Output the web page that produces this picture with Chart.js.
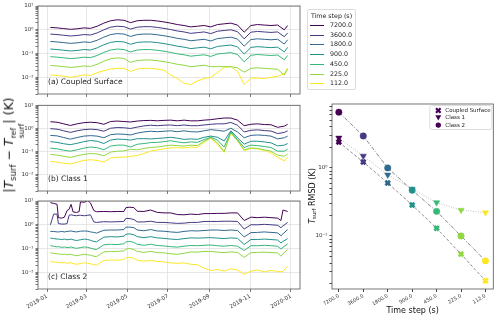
<!DOCTYPE html>
<html>
<head>
<meta charset="utf-8">
<script src="https://cdn.jsdelivr.net/npm/chart.js@4.4.1/dist/chart.umd.min.js"></script>
<style>
  body { margin: 0; background: #fff; font-family: "DejaVu Sans", sans-serif; }
  #wrap { position: relative; width: 500px; height: 319px; overflow: hidden; }
  .box { position: absolute; }
  .vlabel { position: absolute; transform: translate(-50%, -50%) rotate(-90deg); white-space: nowrap; color: #111; }
  .vlabel sub { font-size: 68%; vertical-align: -0.3em; line-height: 0; }
  .ss { display: inline-flex; flex-direction: column; font-size: 62%; line-height: 0.95; vertical-align: -0.45em; }
  #stepLegend { position: absolute; left: 307px; top: 9px; width: 47px; height: 79px; border: 1px solid #dcdcdc; border-radius: 2px; font-size: 6.3px; color: #222; }
  #stepLegend .ltitle { position: absolute; left: 0; width: 100%; top: 2px; text-align: center; }
  .lrow { position: absolute; left: 2px; height: 8px; line-height: 8px; white-space: nowrap; }
  .lline { position: absolute; left: 0; top: 4px; width: 14px; height: 1px; }
  .ltext { position: absolute; left: 20px; top: 0; }
</style>
</head>
<body>
<div id="wrap">
  <div class="box" style="left:0;top:0;width:310px;height:100px"><canvas id="panelA"></canvas></div>
  <div class="box" style="left:0;top:100px;width:310px;height:100px"><canvas id="panelB"></canvas></div>
  <div class="box" style="left:0;top:195px;width:310px;height:124px"><canvas id="panelC"></canvas></div>
  <div class="box" style="left:300px;top:95px;width:200px;height:224px"><canvas id="rmsd"></canvas></div>
  <div id="stepLegend"><div class="ltitle">Time step (s)</div></div>
  <div class="vlabel" style="left:13px;top:145px;font-size:12.5px">|<i>T</i><sub>surf</sub> − <i>T</i><span class="ss"><span>ref</span><span>surf</span></span>| (K)</div>
  <div class="vlabel" style="left:312px;top:196px;font-size:8px"><i>T</i><sub>surf</sub> RMSD (K)</div>
</div>
<script>
Chart.defaults.font.family = "DejaVu Sans";

// time steps and their viridis colours
const stepLabels = ["7200.0", "3600.0", "1800.0", "900.0", "450.0", "225.0", "112.0"];
const viridis = ["#440154", "#443983", "#31688e", "#21918c", "#35b779", "#90d743", "#fde725"];

// x axis: days since 2019-01-01
const monthDays = [0, 59, 120, 181, 243, 304, 365];
const monthLabels = ["2019-01", "2019-03", "2019-05", "2019-07", "2019-09", "2019-11", "2020-01"];

// log10 tick labels
const leftTicks = [0.01, 0.1, 1, 10];
const leftTickLabels = ["10⁻²", "10⁻¹", "10⁰", "10¹"];
const rmsdTicks = [0.1, 1];
const rmsdTickLabels = ["10⁻¹", "10⁰"];

// sample days for panels (a) and (b)
const daysAB = [5, 15, 25, 35, 45, 55, 65, 75, 85, 95, 105, 115, 125, 135, 145, 155, 165, 175, 185,
  195, 205, 215, 225, 235, 245, 255, 265, 275, 285, 295, 305, 315, 325, 335, 345, 355, 360];
// sample days for panel (c), denser where class 2 jumps
const daysC = [5, 10, 15, 17, 22, 26, 30, 33, 36, 39, 44, 48, 50, 56, 61, 65, 70, 74, 85, 95,
  105, 115, 118, 124, 130, 135, 145, 155, 165, 175, 185, 195, 205, 215, 225, 235, 245, 255, 265, 275,
  285, 295, 305, 315, 325, 335, 345, 350, 353, 360];

// values below are log10 of |T_surf - T_surf_ref| in K
// (a) coupled surface
const coupled7200 = [0.10, 0.08, 0.05, 0.02, 0.04, 0.08, 0.06, 0.15, 0.28, 0.38, 0.42, 0.40, 0.30, 0.38, 0.40, 0.40, 0.37, 0.33, 0.28, 0.22, 0.18, 0.12, 0.15, 0.18, 0.12, 0.22, 0.25, 0.28, 0.20, -0.10, 0.18, 0.22, 0.20, 0.18, 0.20, 0.00, 0.18];
const coupled3600 = [-0.18, -0.2, -0.23, -0.26, -0.24, -0.2, -0.22, -0.13, 0.0, 0.11, 0.15, 0.13, 0.03, 0.11, 0.13, 0.13, 0.1, 0.06, 0.01, -0.05, -0.09, -0.15, -0.12, -0.09, -0.16, -0.06, -0.03, 0.0, -0.08, -0.38, -0.1, -0.07, -0.09, -0.11, -0.09, -0.29, -0.13];
const coupled1800 = [-0.49, -0.51, -0.54, -0.57, -0.55, -0.51, -0.53, -0.44, -0.31, -0.2, -0.16, -0.18, -0.28, -0.2, -0.18, -0.18, -0.21, -0.25, -0.3, -0.36, -0.4, -0.46, -0.43, -0.4, -0.47, -0.37, -0.34, -0.31, -0.39, -0.69, -0.41, -0.38, -0.4, -0.42, -0.4, -0.6, -0.42];
const coupled900 = [-0.81, -0.83, -0.86, -0.89, -0.87, -0.83, -0.85, -0.76, -0.63, -0.53, -0.49, -0.51, -0.61, -0.53, -0.51, -0.51, -0.54, -0.58, -0.63, -0.69, -0.73, -0.79, -0.76, -0.73, -0.8, -0.7, -0.67, -0.64, -0.72, -1.02, -0.74, -0.71, -0.73, -0.75, -0.73, -0.93, -0.74];
const coupled450 = [-1.13, -1.15, -1.18, -1.21, -1.19, -1.15, -1.17, -1.08, -0.95, -0.85, -0.81, -0.83, -0.93, -0.85, -0.83, -0.83, -0.86, -0.9, -0.95, -1.01, -1.05, -1.11, -1.08, -1.05, -1.12, -1.02, -0.99, -0.96, -1.04, -1.35, -1.07, -1.04, -1.06, -1.08, -1.06, -1.26, -1.08];
const coupled225 = [-1.5, -1.52, -1.55, -1.58, -1.56, -1.52, -1.54, -1.45, -1.32, -1.22, -1.18, -1.2, -1.37, -1.29, -1.27, -1.27, -1.3, -1.34, -1.39, -1.45, -1.49, -1.55, -1.52, -1.49, -1.55, -1.55, -1.55, -1.55, -1.6, -1.78, -1.62, -1.6, -1.62, -1.64, -1.66, -1.9, -1.65];
const coupled112 = [-1.9, -1.92, -1.95, -2.0, -1.95, -1.9, -1.92, -1.8, -1.72, -1.65, -1.62, -1.62, -1.75, -1.65, -1.62, -1.62, -1.65, -1.7, -1.9, -2.05, -2.25, -2.3, -2.15, -2.05, -2.0, -1.8, -1.58, -1.55, -1.75, -2.3, -2.03, -2.03, -2.05, -2.0, -1.95, -1.85, -1.6];

// (b) class 1
const class1_7200 = [0.29, 0.27, 0.2, 0.13, 0.2, 0.25, 0.27, 0.25, 0.18, 0.3, 0.32, 0.3, 0.28, 0.32, 0.34, 0.35, 0.33, 0.35, 0.36, 0.33, 0.36, 0.33, 0.33, 0.36, 0.38, 0.42, 0.45, 0.45, 0.36, 0.12, 0.18, 0.2, 0.17, 0.16, 0.05, 0.1, 0.18];
const class1_3600 = [-0.01, -0.03, -0.1, -0.17, -0.1, -0.05, -0.03, -0.05, -0.12, 0.01, 0.04, 0.03, 0.0, 0.06, 0.11, 0.14, 0.12, 0.14, 0.15, 0.12, 0.15, 0.12, 0.12, 0.15, 0.18, 0.2, 0.2, 0.26, 0.14, -0.15, -0.08, -0.06, -0.09, -0.11, -0.22, -0.17, -0.1];
const class1_1800 = [-0.3, -0.32, -0.39, -0.46, -0.39, -0.33, -0.31, -0.33, -0.4, -0.27, -0.24, -0.25, -0.28, -0.2, -0.15, -0.12, -0.14, -0.12, -0.1, -0.14, -0.1, -0.14, -0.15, -0.1, -0.05, -0.08, -0.12, 0.01, -0.15, -0.4, -0.3, -0.28, -0.3, -0.33, -0.45, -0.4, -0.33];
const class1_900 = [-0.57, -0.6, -0.66, -0.7, -0.64, -0.57, -0.52, -0.55, -0.65, -0.5, -0.46, -0.47, -0.5, -0.44, -0.44, -0.45, -0.43, -0.41, -0.38, -0.42, -0.47, -0.45, -0.47, -0.38, -0.33, -0.38, -0.54, -0.1, -0.4, -0.68, -0.55, -0.55, -0.58, -0.62, -0.75, -0.72, -0.65];
const class1_450 = [-0.85, -0.88, -0.94, -0.98, -0.92, -0.85, -0.8, -0.83, -0.92, -0.76, -0.72, -0.72, -0.8, -0.68, -0.65, -0.61, -0.6, -0.57, -0.53, -0.58, -0.62, -0.58, -0.6, -0.48, -0.38, -0.5, -0.8, -0.15, -0.48, -0.82, -0.72, -0.74, -0.78, -0.82, -0.98, -0.98, -0.89];
const class1_225 = [-1.12, -1.15, -1.2, -1.25, -1.18, -1.12, -1.08, -1.1, -1.18, -1.02, -0.98, -0.97, -0.9, -0.92, -0.86, -0.82, -0.8, -0.76, -0.72, -0.74, -0.76, -0.72, -0.74, -0.55, -0.4, -0.62, -1.0, -0.18, -0.52, -0.92, -0.84, -0.86, -0.92, -0.98, -1.15, -1.2, -1.1];
const class1_112 = [-1.42, -1.45, -1.5, -1.53, -1.46, -1.38, -1.35, -1.38, -1.45, -1.28, -1.24, -1.24, -1.2, -1.17, -1.08, -0.98, -0.93, -0.88, -0.84, -0.83, -0.84, -0.8, -0.82, -0.6, -0.42, -0.7, -1.03, -0.2, -0.54, -0.96, -0.86, -0.88, -0.95, -1.05, -1.25, -1.4, -1.24];

// (c) class 2
const class2_7200 = [0.93, 0.9, 0.86, 0.3, 0.28, 0.32, 0.6, 0.65, 0.86, 0.54, 0.52, 0.55, 0.96, 0.95, 1.02, 0.92, 0.6, 0.55, 0.56, 0.55, 0.56, 0.56, 0.72, 0.74, 0.72, 0.57, 0.56, 0.62, 0.52, 0.5, 0.5, 0.43, 0.42, 0.45, 0.43, 0.47, 0.47, 0.48, 0.48, 0.5, 0.5, 0.18, 0.32, 0.3, 0.32, 0.3, 0.28, 0.18, 0.62, 0.56];
const class2_3600 = [0.0, 0.45, 0.45, 0.05, 0.03, 0.03, 0.05, 0.4, 0.42, 0.4, 0.38, 0.4, 0.4, 0.38, 0.4, 0.42, 0.12, 0.1, 0.13, 0.12, 0.13, 0.14, 0.27, 0.26, 0.22, 0.12, 0.12, 0.15, 0.1, 0.1, 0.08, 0.06, 0.07, 0.1, 0.1, 0.14, 0.14, 0.14, 0.15, 0.15, 0.14, -0.18, 0.0, 0.0, 0.02, 0.0, -0.02, -0.12, -0.05, 0.1];
const class2_1800 = [-0.28, -0.28, -0.3, -0.3, -0.28, -0.3, -0.28, -0.27, -0.26, -0.28, -0.3, -0.28, -0.27, -0.26, -0.27, -0.3, -0.32, -0.35, -0.23, -0.22, -0.22, -0.2, -0.1, -0.1, -0.12, -0.22, -0.25, -0.2, -0.26, -0.27, -0.3, -0.32, -0.28, -0.25, -0.26, -0.24, -0.22, -0.22, -0.24, -0.22, -0.24, -0.51, -0.33, -0.32, -0.3, -0.32, -0.34, -0.46, -0.38, -0.2];
const class2_900 = [-0.56, -0.58, -0.6, -0.6, -0.62, -0.6, -0.63, -0.62, -0.6, -0.63, -0.66, -0.64, -0.63, -0.6, -0.62, -0.65, -0.7, -0.72, -0.52, -0.5, -0.51, -0.48, -0.4, -0.38, -0.42, -0.5, -0.54, -0.5, -0.55, -0.57, -0.6, -0.62, -0.58, -0.55, -0.56, -0.55, -0.54, -0.56, -0.58, -0.55, -0.57, -0.83, -0.62, -0.62, -0.6, -0.62, -0.64, -0.76, -0.7, -0.58];
const class2_450 = [-0.88, -0.9, -0.93, -0.92, -0.95, -0.93, -0.96, -0.95, -0.93, -0.96, -0.99, -0.97, -0.96, -0.93, -0.95, -0.98, -1.02, -1.04, -0.84, -0.82, -0.83, -0.8, -0.72, -0.7, -0.74, -0.82, -0.86, -0.82, -0.87, -0.89, -0.92, -0.94, -0.9, -0.87, -0.88, -0.86, -0.85, -0.88, -0.9, -0.87, -0.9, -1.08, -0.88, -0.88, -0.86, -0.88, -0.9, -1.02, -0.95, -0.8];
const class2_225 = [-1.18, -1.2, -1.22, -1.22, -1.25, -1.23, -1.26, -1.25, -1.24, -1.27, -1.3, -1.28, -1.27, -1.24, -1.26, -1.28, -1.32, -1.34, -1.14, -1.12, -1.12, -1.1, -1.02, -1.0, -1.04, -1.12, -1.16, -1.12, -1.17, -1.18, -1.22, -1.24, -1.2, -1.14, -1.15, -1.12, -1.12, -1.15, -1.17, -1.14, -1.16, -1.37, -1.17, -1.16, -1.15, -1.17, -1.18, -1.32, -1.22, -1.04];
const class2_112 = [-1.55, -1.56, -1.58, -1.58, -1.6, -1.58, -1.62, -1.6, -1.6, -1.63, -1.66, -1.64, -1.63, -1.6, -1.62, -1.64, -1.67, -1.7, -1.5, -1.48, -1.49, -1.46, -1.39, -1.37, -1.41, -1.49, -1.53, -1.5, -1.54, -1.56, -1.6, -1.62, -1.6, -1.66, -1.68, -1.82, -1.92, -1.88, -1.95, -1.85, -1.9, -2.08, -1.95, -1.9, -1.98, -1.92, -1.96, -1.98, -1.95, -1.74];

// RMSD (K) per time step
const rmsdCoupled = [2.4, 1.22, 0.6, 0.285, 0.13, 0.054, 0.022];
const rmsdClass1 = [2.76, 1.5, 0.79, 0.49, 0.31, 0.24, 0.22];
const rmsdClass2 = [6.6, 2.95, 1.0, 0.47, 0.23, 0.10, 0.043];

const coupledSeries = [coupled7200, coupled3600, coupled1800, coupled900, coupled450, coupled225, coupled112];
const class1Series = [class1_7200, class1_3600, class1_1800, class1_900, class1_450, class1_225, class1_112];
const class2Series = [class2_7200, class2_3600, class2_1800, class2_900, class2_450, class2_225, class2_112];

// minor log ticks (2..9 per decade) for tick marks only
function logTicks(majors, lo, hi) {
  const out = [];
  for (let e = -4; e <= 1; e++) {
    for (let m = 1; m <= 9; m++) {
      const v = m * Math.pow(10, e);
      if (v < lo || v > hi) continue;
      const idx = majors.findIndex(t => Math.abs(t - v) < v * 1e-6);
      out.push({ value: idx >= 0 ? majors[idx] : v, major: idx >= 0 });
    }
  }
  return out;
}

const frame = {
  id: "frame",
  afterDraw(chart, args, opts) {
    const { ctx, chartArea: a } = chart;
    ctx.save();
    ctx.strokeStyle = "#555";
    ctx.lineWidth = 0.8;
    ctx.strokeRect(a.left, a.top, a.right - a.left, a.bottom - a.top);
    if (opts.text) {
      ctx.fillStyle = "#222";
      ctx.font = "7.5px 'DejaVu Sans'";
      ctx.textBaseline = "middle";
      ctx.fillText(opts.text, a.left + 10, a.bottom - 12);
    }
    ctx.restore();
  }
};

// COUPLED / CLASS PANELS

function timePanel(id, days, series, label, padTop, xHeight, showDates) {
  return new Chart(document.getElementById(id), {
    type: "line",
    data: {
      datasets: series.map((s, i) => ({
        label: stepLabels[i],
        data: s.map((v, j) => ({ x: days[j], y: 10 ** v })),
        borderColor: viridis[i],
        borderWidth: 1,
        pointRadius: 0,
        tension: 0,
        fill: false,
      })),
    },
    options: {
      responsive: true,
      maintainAspectRatio: false,
      animation: false,
      layout: { padding: { top: padTop, right: 10, left: 0, bottom: 0 } },
      plugins: { legend: { display: false }, tooltip: { enabled: false }, frame: { text: label } },
      scales: {
        x: {
          type: "linear",
          min: -13.5,
          max: 378.5,
          afterBuildTicks: (s) => { s.ticks = monthDays.map(v => ({ value: v })); },
          afterFit: (s) => { s.height = xHeight; },
          border: { display: false },
          grid: { color: "#dcdcdc", lineWidth: 0.7, tickColor: "#444", tickLength: 3 },
          ticks: {
            display: showDates,
            autoSkip: false,
            minRotation: 30,
            maxRotation: 30,
            padding: 1,
            color: "#333",
            font: { size: 5.5 },
            callback: (v, i) => monthLabels[i],
          },
        },
        y: {
          type: "logarithmic",
          min: 0.002,
          max: 10,
          afterBuildTicks: (s) => { s.ticks = logTicks(leftTicks, 0.002, 10); },
          afterFit: (s) => { s.width = 38; },
          border: { display: false },
          grid: {
            color: (c) => (c.tick && c.tick.major ? "#dcdcdc" : "rgba(0,0,0,0)"),
            lineWidth: 0.7,
            tickColor: "#444",
            tickLength: 2.5,
          },
          ticks: {
            padding: 2,
            color: "#333",
            font: { size: 5.5 },
            autoSkip: false,
            callback: (v) => {
              const k = leftTicks.indexOf(v);
              return k >= 0 ? leftTickLabels[k] : "";
            },
          },
        },
      },
    },
    plugins: [frame],
  });
}

timePanel("panelA", daysAB, coupledSeries, "(a) Coupled Surface", 6, 6, false);
timePanel("panelB", daysAB, class1Series, "(b) Class 1", 3, 9, false);
timePanel("panelC", daysC, class2Series, "(c) Class 2", 6, 30, true);

// legend of time steps
const legendBox = document.getElementById("stepLegend");
stepLabels.forEach((lab, i) => {
  const row = document.createElement("div");
  row.className = "lrow";
  row.style.top = Math.round(11 + i * 9.7) + "px";
  row.innerHTML = '<span class="lline" style="background:' + viridis[i] + '"></span><span class="ltext">' + lab + "</span>";
  legendBox.appendChild(row);
});

// RMSD PANEL

const rmsdLegend = {
  id: "rmsdLegend",
  afterDraw(chart) {
    const { ctx, chartArea: a } = chart;
    const w = 62, h = 24, x0 = a.right - w - 1.5, y0 = a.top + 1.5;
    ctx.save();
    ctx.fillStyle = "rgba(255,255,255,0.8)";
    ctx.strokeStyle = "#d6d6d6";
    ctx.lineWidth = 0.8;
    ctx.beginPath();
    ctx.roundRect(x0, y0, w, h, 2);
    ctx.fill();
    ctx.stroke();
    const names = ["Coupled Surface", "Class 1", "Class 2"];
    const mx = x0 + 8.5;
    names.forEach((n, i) => {
      const my = y0 + 5 + i * 7.3;
      ctx.fillStyle = viridis[0];
      ctx.strokeStyle = viridis[0];
      if (i === 0) {
        ctx.lineWidth = 2.2;
        ctx.beginPath();
        ctx.moveTo(mx - 2.3, my - 2.3); ctx.lineTo(mx + 2.3, my + 2.3);
        ctx.moveTo(mx + 2.3, my - 2.3); ctx.lineTo(mx - 2.3, my + 2.3);
        ctx.stroke();
      } else if (i === 1) {
        ctx.beginPath();
        ctx.moveTo(mx - 3, my - 2.5); ctx.lineTo(mx + 3, my - 2.5); ctx.lineTo(mx, my + 2.8);
        ctx.closePath();
        ctx.fill();
      } else {
        ctx.beginPath();
        ctx.arc(mx, my, 2.7, 0, Math.PI * 2);
        ctx.fill();
      }
      ctx.fillStyle = "#222";
      ctx.font = "5.5px 'DejaVu Sans'";
      ctx.textBaseline = "middle";
      ctx.fillText(n, mx + 7, my);
    });
    ctx.restore();
  }
};

new Chart(document.getElementById("rmsd"), {
  type: "line",
  data: {
    datasets: [
      {
        label: "Coupled Surface",
        data: rmsdCoupled.map((v, i) => ({ x: i, y: v })),
        borderColor: "rgba(90,90,90,0.85)",
        borderWidth: 0.8,
        borderDash: [3, 2],
        pointStyle: "crossRot",
        pointRadius: 3.2,
        pointBorderWidth: 2.7,
        pointBorderColor: viridis,
        pointBackgroundColor: viridis,
      },
      {
        label: "Class 1",
        data: rmsdClass1.map((v, i) => ({ x: i, y: v })),
        borderColor: "#b5b5b5",
        borderWidth: 0.9,
        borderDash: [1, 1.5],
        pointStyle: "triangle",
        rotation: 180,
        pointRadius: 3.6,
        pointBorderWidth: 0.5,
        pointBorderColor: viridis,
        pointBackgroundColor: viridis,
      },
      {
        label: "Class 2",
        data: rmsdClass2.map((v, i) => ({ x: i, y: v })),
        borderColor: "rgba(80,80,80,0.85)",
        borderWidth: 0.8,
        borderDash: [4, 1.5, 1, 1.5],
        pointStyle: "circle",
        pointRadius: 3.2,
        pointBorderWidth: 0.5,
        pointBorderColor: viridis,
        pointBackgroundColor: viridis,
      },
    ],
  },
  options: {
    responsive: true,
    maintainAspectRatio: false,
    animation: false,
    layout: { padding: { top: 9, right: 4, left: 0, bottom: 0 } },
    plugins: { legend: { display: false }, tooltip: { enabled: false }, frame: {} },
    scales: {
      x: {
        type: "linear",
        min: -0.28,
        max: 6.32,
        afterBuildTicks: (s) => { s.ticks = stepLabels.map((l, i) => ({ value: i })); },
        afterFit: (s) => { s.height = 30; },
        border: { display: false },
        grid: { drawOnChartArea: false, tickColor: "#444", tickLength: 3 },
        ticks: {
          autoSkip: false,
          minRotation: 30,
          maxRotation: 30,
          padding: 1,
          color: "#333",
          font: { size: 5 },
          callback: (v, i) => stepLabels[i],
        },
        title: { display: true, text: "Time step (s)", color: "#111", font: { size: 8 }, padding: { top: 0, bottom: 3 } },
      },
      y: {
        type: "logarithmic",
        min: 0.0166,
        max: 8.7,
        afterBuildTicks: (s) => { s.ticks = logTicks(rmsdTicks, 0.0166, 8.7); },
        afterFit: (s) => { s.width = 32; },
        border: { display: false },
        grid: { drawOnChartArea: false, tickColor: "#444", tickLength: 2.5 },
        ticks: {
          autoSkip: false,
          padding: 2,
          color: "#333",
          font: { size: 5.5 },
          callback: (v) => {
            const k = rmsdTicks.indexOf(v);
            return k >= 0 ? rmsdTickLabels[k] : "";
          },
        },
      },
    },
  },
  plugins: [frame, rmsdLegend],
});
</script>
</body>
</html>
